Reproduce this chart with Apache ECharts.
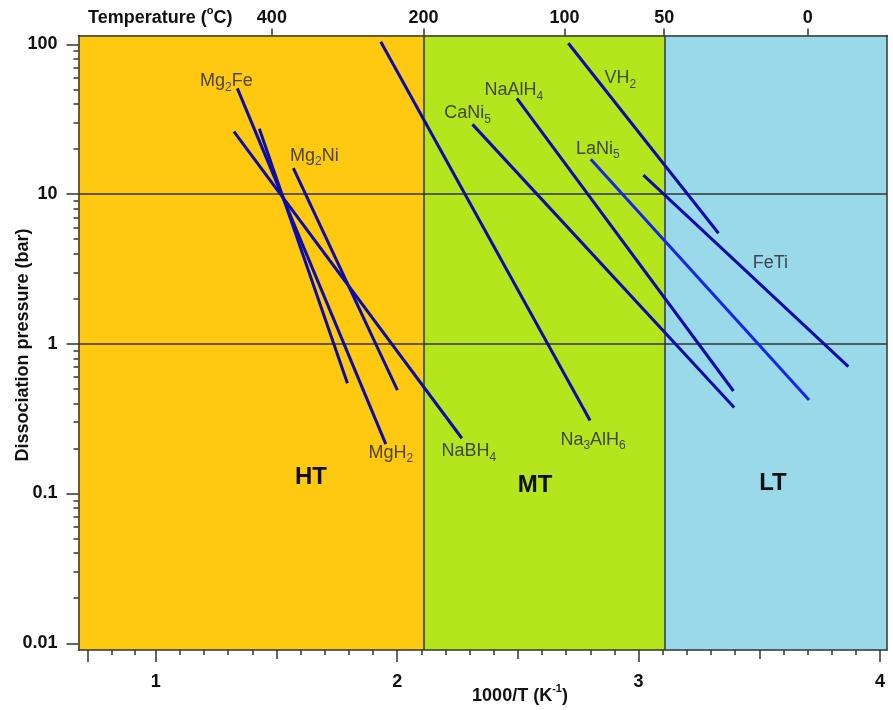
<!DOCTYPE html>
<html>
<head>
<meta charset="utf-8">
<script src="https://cdn.jsdelivr.net/npm/echarts@6/dist/echarts.min.js"></script>
<style>
  html, body { margin: 0; padding: 0; background: #fff; }
  #chart { width: 893px; height: 710px; }
</style>
</head>
<body>
<div id="chart"></div>
<script>
// Van 't Hoff lines of hydrides: each line runs from (invT0, p0) to (invT1, p1),
// x in 1000/T (1/K), pressure in bar.
const lineNames = ['Mg2Fe', 'NaBH4', 'MgH2', 'Mg2Ni', 'Na3AlH6', 'CaNi5', 'NaAlH4', 'VH2', 'LaNi5', 'FeTi'];
const invT0 = [1.338, 1.324, 1.429, 1.570, 1.932, 2.312, 2.496, 2.709, 2.802, 3.020];
const p0    = [50.8, 26.1, 27.3, 14.9, 104, 29.2, 43.6, 101.6, 17.1, 13.4];
const invT1 = [1.953, 2.268, 1.794, 2.001, 2.799, 3.396, 3.393, 3.331, 3.706, 3.869];
const p1    = [0.214, 0.234, 0.545, 0.491, 0.307, 0.375, 0.484, 5.47, 0.421, 0.703];

// Axis ticks
const invTTicks = [1, 2, 3, 4];
const invTLongTicks = [0.717, 1, 2, 3, 4];
const invTMidTicks = [1.5, 2.5, 3.5];
const invTShortTicks = [0.816, 0.915, 1.1, 1.2, 1.3, 1.4, 1.6, 1.7, 1.8, 1.9, 2.1, 2.2, 2.3, 2.4,
  2.6, 2.7, 2.8, 2.9, 3.1, 3.2, 3.3, 3.4, 3.6, 3.7, 3.8, 3.9];
const pressureTicks = [0.01, 0.1, 1, 10, 100];
const pressureMinorTicks = [];
[0.01, 0.1, 1, 10].forEach(d => { for (let k = 2; k <= 9; k++) pressureMinorTicks.push(d * k); });
const tempLabels = ['400', '200', '100', '50', '0'];
const tempAt = [1.481, 2.109, 2.693, 3.106, 3.701];

// Temperature ranges
const rangeNames = ['HT', 'MT', 'LT'];
const rangeEdges = [tempAt[1], tempAt[3]];   // 200 °C and 50 °C

const X_MIN = 0.680, X_MAX = 4.029;
const Y_MIN = -2.045, Y_MAX = 2.059;         // log10(bar)
const lg = Math.log10;

const FONT = '"Liberation Sans", Arial, sans-serif';
const AXIS_COLOR = '#333';

const chart = echarts.init(document.getElementById('chart'), null, { renderer: 'canvas' });

const lineColors = lineNames.map(n => n === 'LaNi5' ? '#1426ee' : '#0c0caa');

const dataSeries = lineNames.map((name, i) => ({
  name: name,
  type: 'line',
  xAxisIndex: 0,
  yAxisIndex: 0,
  z: 3,
  silent: true,
  symbol: 'none',
  lineStyle: { color: lineColors[i], width: 3, cap: 'butt' },
  data: [[invT0[i], lg(p0[i])], [invT1[i], lg(p1[i])]]
}));

// Text labels tied to line ends (end 0 = first point, 1 = last point), offset in px
const labelSpecs = [
  { text: 'Mg{s|2}Fe',     line: 0, end: 0, off: [-11, -7] },
  { text: 'MgH{s|2}',      line: 0, end: 1, off: [5, 9] },
  { text: 'NaBH{s|4}',     line: 1, end: 1, off: [7, 13] },
  { text: 'Mg{s|2}Ni',     line: 3, end: 0, off: [21, -12] },
  { text: 'Na{s|3}AlH{s|6}', line: 4, end: 1, off: [3, 19] },
  { text: 'CaNi{s|5}',     line: 5, end: 0, off: [-5, -11] },
  { text: 'NaAlH{s|4}',    line: 6, end: 0, off: [-3, -8] },
  { text: 'VH{s|2}',       line: 7, end: 0, off: [52, 35] },
  { text: 'LaNi{s|5}',     line: 8, end: 0, off: [7, -10] },
  { text: 'FeTi',          line: 9, end: 1, off: [-78, -104] }
];

const labelSeries = {
  type: 'scatter',
  xAxisIndex: 0,
  yAxisIndex: 0,
  z: 4,
  silent: true,
  symbolSize: 1,
  itemStyle: { color: 'rgba(0,0,0,0)' },
  data: labelSpecs.map(s => ({
    value: s.end === 0 ? [invT0[s.line], lg(p0[s.line])] : [invT1[s.line], lg(p1[s.line])],
    label: { offset: s.off }
  })),
  label: {
    show: true,
    position: 'inside',
    formatter: p => labelSpecs[p.dataIndex].text,
    color: '#222',
    fontFamily: FONT,
    fontSize: 18,
    lineHeight: 24,
    align: 'center',
    verticalAlign: 'middle',
    rich: {
      s: { fontSize: 12, lineHeight: 12, verticalAlign: 'bottom', color: '#222', fontFamily: FONT }
    }
  }
};

const rangeColors = ['#fec910', '#b5e61d', '#9ad9ea'];
const rangeBounds = [X_MIN, rangeEdges[0], rangeEdges[1], X_MAX];

const backgroundSeries = {
  type: 'line',
  xAxisIndex: 0,
  yAxisIndex: 0,
  z: 1,
  silent: true,
  symbol: 'none',
  data: [],
  markArea: {
    silent: true,
    z: 1,
    data: rangeNames.map((n, i) => [
      { xAxis: rangeBounds[i], itemStyle: { color: rangeColors[i] } },
      { xAxis: rangeBounds[i + 1] }
    ])
  },
  markLine: {
    silent: true,
    z: 2,
    symbol: ['none', 'none'],
    label: { show: false },
    lineStyle: { color: AXIS_COLOR, width: 1.5, type: 'solid' },
    data: [{ yAxis: lg(1) }, { yAxis: lg(10) }, { xAxis: rangeEdges[0] }, { xAxis: rangeEdges[1] }]
  }
};

const boldLabel = { color: '#111', fontFamily: FONT, fontWeight: 'bold', fontSize: 18 };
const tickLine = { color: AXIS_COLOR, width: 1.5 };
const frameLine = { show: true, onZero: false, lineStyle: { color: AXIS_COLOR, width: 1.5 } };
const noLine = { show: false, onZero: false };

const supStyle = { fontSize: 11, fontWeight: 'bold', fontFamily: FONT, verticalAlign: 'top', lineHeight: 12, fill: '#111' };

const option = {
  animation: false,
  backgroundColor: '#fff',
  grid: { left: 78.5, right: 6, top: 35.5, bottom: 60, containLabel: false },
  xAxis: [
    {
      type: 'value', position: 'bottom', min: X_MIN, max: X_MAX, z: 5,
      axisLine: frameLine,
      axisTick: { show: true, length: 12, customValues: invTLongTicks, lineStyle: tickLine },
      axisLabel: Object.assign({ customValues: invTTicks, margin: 23, formatter: v => String(v) }, boldLabel),
      splitLine: { show: false }
    },
    {
      type: 'value', position: 'bottom', min: X_MIN, max: X_MAX, z: 5,
      axisLine: noLine,
      axisTick: { show: true, length: 9, customValues: invTMidTicks, lineStyle: tickLine },
      axisLabel: { show: false },
      splitLine: { show: false }
    },
    {
      type: 'value', position: 'bottom', min: X_MIN, max: X_MAX, z: 5,
      axisLine: noLine,
      axisTick: { show: true, length: 5, customValues: invTShortTicks, lineStyle: tickLine },
      axisLabel: { show: false },
      splitLine: { show: false }
    },
    {
      type: 'value', position: 'top', min: X_MIN, max: X_MAX, z: 5,
      axisLine: frameLine,
      axisTick: { show: true, length: 7, customValues: tempAt, lineStyle: tickLine },
      axisLabel: Object.assign({
        customValues: tempAt, margin: 8,
        formatter: v => {
          let best = 0;
          tempAt.forEach((t, i) => { if (Math.abs(t - v) < Math.abs(tempAt[best] - v)) best = i; });
          return tempLabels[best];
        }
      }, boldLabel),
      splitLine: { show: false }
    }
  ],
  yAxis: [
    {
      type: 'value', position: 'left', min: Y_MIN, max: Y_MAX, z: 5,
      axisLine: frameLine,
      axisTick: { show: true, length: 12, customValues: pressureTicks.map(lg), lineStyle: tickLine },
      axisLabel: Object.assign({
        customValues: pressureTicks.map(lg), margin: 21,
        formatter: v => {
          let best = 0;
          pressureTicks.forEach((t, i) => { if (Math.abs(lg(t) - v) < Math.abs(lg(pressureTicks[best]) - v)) best = i; });
          return String(pressureTicks[best]);
        }
      }, boldLabel),
      splitLine: { show: false }
    },
    {
      type: 'value', position: 'left', min: Y_MIN, max: Y_MAX, z: 5,
      axisLine: noLine,
      axisTick: { show: true, length: 5, customValues: pressureMinorTicks.map(lg), lineStyle: tickLine },
      axisLabel: { show: false },
      splitLine: { show: false }
    },
    {
      type: 'value', position: 'right', min: Y_MIN, max: Y_MAX, z: 5,
      axisLine: frameLine,
      axisTick: { show: false },
      axisLabel: { show: false },
      splitLine: { show: false }
    }
  ],
  graphic: [
    {
      type: 'text', x: 88, y: 18, z: 10, silent: true,
      style: {
        text: 'Temperature ({sup|o}C)',
        fill: '#111', font: 'bold 18px ' + FONT, lineHeight: 26,
        align: 'left', verticalAlign: 'middle',
        rich: { sup: supStyle }
      }
    },
    {
      type: 'text', x: 520, y: 696, z: 10, silent: true,
      style: {
        text: '1000/T (K{sup|-1})',
        fill: '#111', font: 'bold 18px ' + FONT, lineHeight: 26,
        align: 'center', verticalAlign: 'middle',
        rich: { sup: supStyle }
      }
    },
    {
      type: 'text', x: 23, y: 345, rotation: Math.PI / 2, z: 10, silent: true,
      style: {
        text: 'Dissociation pressure (bar)',
        fill: '#111', font: 'bold 18px ' + FONT,
        align: 'center', verticalAlign: 'middle'
      }
    },
    { type: 'text', x: 311, y: 477, z: 10, silent: true,
      style: { text: rangeNames[0], fill: '#111', font: 'bold 24px ' + FONT, align: 'center', verticalAlign: 'middle' } },
    { type: 'text', x: 535, y: 485, z: 10, silent: true,
      style: { text: rangeNames[1], fill: '#111', font: 'bold 24px ' + FONT, align: 'center', verticalAlign: 'middle' } },
    { type: 'text', x: 773, y: 483, z: 10, silent: true,
      style: { text: rangeNames[2], fill: '#111', font: 'bold 24px ' + FONT, align: 'center', verticalAlign: 'middle' } }
  ],
  series: [backgroundSeries].concat(dataSeries, [labelSeries])
};

chart.setOption(option);
</script>
</body>
</html>
